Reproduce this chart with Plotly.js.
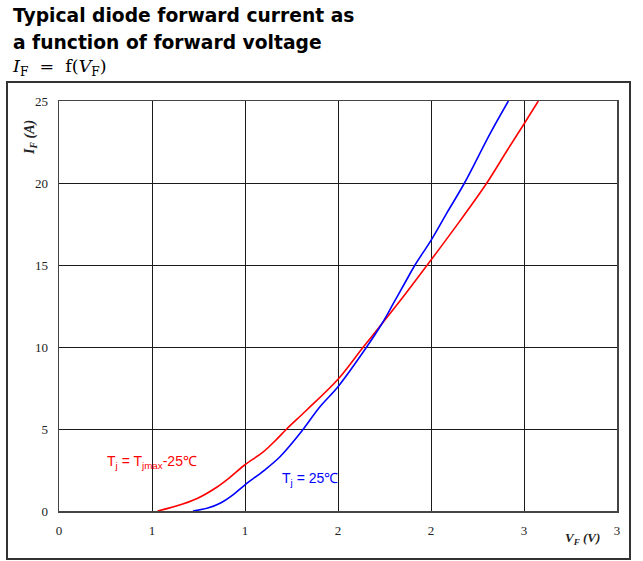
<!DOCTYPE html>
<html>
<head>
<meta charset="utf-8">
<script src="https://cdn.plot.ly/plotly-3.0.1.min.js"></script>
<style>html,body{margin:0;padding:0;background:#fff;}#chart{width:643px;height:561px;}</style>
</head>
<body>
<div id="chart"></div>
<script>
// Data
const hotV = [0.53, 0.63, 0.74, 0.848, 0.919, 1.00, 1.098, 1.17, 1.224, 1.332, 1.50, 1.636, 1.735, 1.86, 1.98, 2.15, 2.30, 2.41, 2.50, 2.577];
const hotI = [0.00, 0.30, 0.75, 1.45, 2.05, 2.82, 3.60, 4.37, 5.00, 6.16, 8.03, 10.0, 11.4, 13.2, 15.0, 17.6, 20.0, 22.0, 23.6, 25.0];
const coldV = [0.72, 0.80, 0.866, 0.937, 1.00, 1.10, 1.188, 1.296, 1.403, 1.50, 1.654, 1.735, 1.80, 1.869, 1.914, 2.00, 2.084, 2.18, 2.317, 2.416];
const coldI = [0.00, 0.18, 0.47, 1.00, 1.60, 2.45, 3.31, 4.74, 6.36, 7.58, 10.0, 11.4, 12.7, 14.1, 15.0, 16.5, 18.15, 20.0, 23.0, 25.0];
const xTickVals = [0, 0.5, 1, 1.5, 2, 2.5, 3];
const xTickText = ['0', '1', '1', '2', '2', '3', '3'];
const yTickVals = [0, 5, 10, 15, 20, 25];
const labelHot = 'T<sub>j</sub> = T<sub>jmax</sub>-25℃';
const labelCold = 'T<sub>j</sub> = 25℃';

// pixel -> paper helpers (plot area 59..617 x, 101..511 y)
const L = 59, R = 617, T = 101, B = 511;
const px = x => (x - L) / (R - L);
const py = y => (B - y) / (B - T);

const traces = [
  {x: hotV, y: hotI, mode: 'lines', line: {color: '#ff0000', width: 1.6, shape: 'spline', smoothing: 1}, hoverinfo: 'skip'},
  {x: coldV, y: coldI, mode: 'lines', line: {color: '#0000ff', width: 1.6, shape: 'spline', smoothing: 1}, hoverinfo: 'skip'}
];

const serif = '"Liberation Serif", "DejaVu Serif", serif';
const layout = {
  width: 643, height: 561,
  margin: {l: L, r: 643 - R, t: T, b: 561 - B},
  paper_bgcolor: '#fff', plot_bgcolor: '#fff',
  showlegend: false,
  xaxis: {
    range: [0, 3], tickvals: xTickVals, ticktext: xTickText,
    showgrid: true, gridcolor: '#1a1a1a', gridwidth: 1,
    zeroline: false, showline: true, mirror: true, linecolor: '#444', linewidth: 1.5,
    ticks: '', ticklabelstandoff: 7,
    tickfont: {family: serif, size: 13, color: '#222'}
  },
  yaxis: {
    range: [0, 25], tickvals: yTickVals,
    showgrid: true, gridcolor: '#1a1a1a', gridwidth: 1,
    zeroline: false, showline: true, mirror: true, linecolor: '#444', linewidth: 1.5,
    ticks: '', ticklabelstandoff: 7,
    tickfont: {family: serif, size: 13, color: '#222'}
  },
  shapes: [
    {type: 'rect', xref: 'paper', yref: 'paper', x0: px(7), x1: px(630), y0: py(559), y1: py(82),
     line: {color: '#333', width: 2}, fillcolor: 'rgba(0,0,0,0)', layer: 'below'}
  ],
  annotations: [
    {xref: 'paper', yref: 'paper', x: px(11), y: py(15), xanchor: 'left', yanchor: 'middle', showarrow: false,
     text: '<b>Typical diode forward current as</b>', font: {family: '"DejaVu Sans", Verdana, sans-serif', size: 18.7, color: '#000'}},
    {xref: 'paper', yref: 'paper', x: px(11), y: py(42), xanchor: 'left', yanchor: 'middle', showarrow: false,
     text: '<b>a function of forward voltage</b>', font: {family: '"DejaVu Sans", Verdana, sans-serif', size: 18.7, color: '#000'}},
    {xref: 'paper', yref: 'paper', x: px(10), y: py(68), xanchor: 'left', yanchor: 'middle', showarrow: false,
     text: '<i>I</i><sub>F</sub>  =  f(<i>V</i><sub>F</sub>)', font: {family: '"DejaVu Serif", serif', size: 17.5, color: '#000'}},
    {xref: 'paper', yref: 'paper', x: px(30), y: py(138), xanchor: 'center', yanchor: 'middle', showarrow: false, textangle: -90,
     text: '<b><i>I<sub>F</sub> (A)</i></b>', font: {family: serif, size: 14, color: '#222'}},
    {xref: 'paper', yref: 'paper', x: px(582), y: py(538), xanchor: 'center', yanchor: 'middle', showarrow: false,
     text: '<b><i>V<sub>F</sub> (V)</i></b>', font: {family: serif, size: 13, color: '#222'}},
    {xref: 'paper', yref: 'paper', x: px(105), y: py(462), xanchor: 'left', yanchor: 'middle', showarrow: false,
     text: labelHot, font: {family: '"Liberation Sans", Arial, sans-serif', size: 14, color: '#ff0000'}},
    {xref: 'paper', yref: 'paper', x: px(280), y: py(479), xanchor: 'left', yanchor: 'middle', showarrow: false,
     text: labelCold, font: {family: '"Liberation Sans", Arial, sans-serif', size: 14, color: '#0000ff'}}
  ]
};

Plotly.newPlot('chart', traces, layout, {staticPlot: true, displayModeBar: false});
</script>
</body>
</html>
